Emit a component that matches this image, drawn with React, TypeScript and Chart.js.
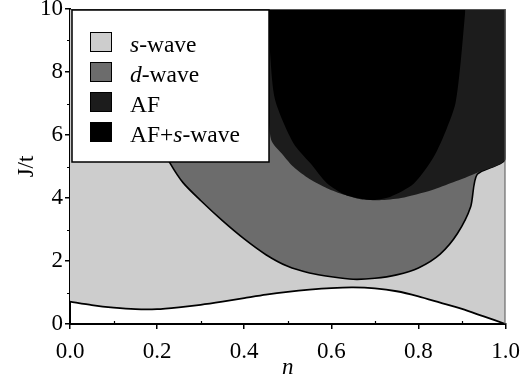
import React, { useEffect, useRef } from 'react';
import { Chart, registerables } from 'chart.js';

Chart.register(...registerables);

// ---- data (n, J/t) ----
const xMinorTicks = [0.1, 0.3, 0.5, 0.7, 0.9];
const yMinorTicks = [1, 3, 5, 7, 9];

// lower boundary of the s-wave region
const lowerN = [0, 0.05, 0.1, 0.15, 0.2, 0.25, 0.3, 0.35, 0.4, 0.45, 0.5, 0.55, 0.6, 0.65, 0.7, 0.75, 0.8, 0.85, 0.9, 0.95, 1.0];
const lowerJ = [0.71, 0.6, 0.52, 0.47, 0.47, 0.53, 0.61, 0.71, 0.82, 0.93, 1.02, 1.09, 1.14, 1.16, 1.13, 1.04, 0.88, 0.68, 0.48, 0.24, 0];

// lower boundary of d-wave (and AF / s-wave line to n = 1)
const dwaveN = [0.12, 0.16, 0.2, 0.23, 0.26, 0.3, 0.35, 0.4, 0.45, 0.5, 0.55, 0.6, 0.65, 0.7, 0.75, 0.8, 0.85, 0.89, 0.92, 0.935, 1.0, 1.0];
const dwaveJ = [10, 7.4, 5.9, 5.1, 4.48, 3.92, 3.28, 2.7, 2.2, 1.83, 1.62, 1.5, 1.42, 1.45, 1.56, 1.78, 2.22, 2.88, 3.72, 4.75, 5.26, 10];

// lower boundary of AF
const afN = [0.44, 0.455, 0.462, 0.49, 0.513, 0.55, 0.59, 0.63, 0.667, 0.71, 0.76, 0.83, 0.88, 0.935, 1.0, 1.0];
const afJ = [10, 7.0, 5.84, 5.35, 4.99, 4.6, 4.31, 4.1, 3.96, 3.93, 4.0, 4.25, 4.5, 4.8, 5.26, 10];

// lower boundary of AF + s-wave
const afsN = [0.456, 0.46, 0.471, 0.513, 0.552, 0.59, 0.632, 0.67, 0.7, 0.736, 0.789, 0.835, 0.865, 0.885, 0.897, 0.908];
const afsJ = [10, 8.5, 7.11, 5.74, 5.1, 4.47, 4.1, 3.97, 3.94, 4.04, 4.45, 5.3, 6.2, 7.0, 8.3, 10];

const seriesNames = ['s-wave', 'd-wave', 'AF', 'AF+s-wave'];
const seriesColors = ['#cdcdcd', '#6c6c6c', '#1c1c1c', '#000000'];

const FONT = '"Liberation Serif", "Times New Roman", serif';

const pts = (xs: number[], ys: number[]) => xs.map((v, i) => ({ x: v, y: ys[i] }));

// split a legend name into italic/regular parts (single letters before "-wave" are italic)
const nameParts = (name: string) => {
  const parts: { t: string; it: boolean }[] = [];
  const re = /(^|\+)([sd])(-wave)/;
  const m = name.match(re);
  if (!m || m.index === undefined) return [{ t: name, it: false }];
  const start = m.index + m[1].length;
  if (start > 0) parts.push({ t: name.slice(0, start), it: false });
  parts.push({ t: m[2], it: true });
  parts.push({ t: name.slice(start + 1), it: false });
  return parts;
};

const decor = {
  id: 'decor',
  afterDraw(chart: any) {
    const { ctx, chartArea: a, scales } = chart;
    const xs = scales.x;
    const ys = scales.y;
    ctx.save();
    // thin top/right frame
    ctx.strokeStyle = '#555';
    ctx.lineWidth = 1;
    ctx.beginPath();
    ctx.moveTo(a.left, a.top + 0.5);
    ctx.lineTo(a.right - 0.5, a.top + 0.5);
    ctx.lineTo(a.right - 0.5, a.bottom);
    ctx.stroke();
    // minor ticks
    ctx.strokeStyle = '#000';
    ctx.lineWidth = 1.2;
    ctx.beginPath();
    xMinorTicks.forEach((v) => {
      const px = Math.round(xs.getPixelForValue(v)) + 0.5;
      ctx.moveTo(px, a.bottom);
      ctx.lineTo(px, a.bottom - 3);
    });
    yMinorTicks.forEach((v) => {
      const py = Math.round(ys.getPixelForValue(v)) + 0.5;
      ctx.moveTo(a.left, py);
      ctx.lineTo(a.left - 3, py);
    });
    ctx.stroke();
    // legend
    const bx = a.left + 2, by = a.top + 1, bw = 197, bh = 152;
    ctx.fillStyle = '#fff';
    ctx.fillRect(bx, by, bw, bh);
    ctx.strokeStyle = '#000';
    ctx.lineWidth = 1.5;
    ctx.strokeRect(bx, by, bw, bh);
    seriesNames.forEach((name, i) => {
      const sx = bx + 18, sy = by + 22 + i * 30, sw = 22, sh = 20;
      ctx.fillStyle = seriesColors[i];
      ctx.fillRect(sx, sy, sw, sh);
      ctx.lineWidth = 1;
      ctx.strokeStyle = '#000';
      ctx.strokeRect(sx + 0.5, sy + 0.5, sw - 1, sh - 1);
      let tx = bx + 58;
      const base = sy + sh;
      ctx.fillStyle = '#000';
      ctx.textBaseline = 'alphabetic';
      ctx.textAlign = 'left';
      nameParts(name).forEach((p) => {
        ctx.font = (p.it ? 'italic ' : '') + '23.5px ' + FONT;
        ctx.fillText(p.t, tx, base);
        tx += ctx.measureText(p.t).width;
      });
    });
    ctx.restore();
  },
};

export default function App() {
  const ref = useRef<HTMLCanvasElement | null>(null);
  useEffect(() => {
    if (!ref.current) return;
    const common = { pointRadius: 0, tension: 0.25, spanGaps: true };
    const chart = new Chart(ref.current, {
      type: 'line',
      data: {
        datasets: [
          {
            label: seriesNames[0],
            data: pts(lowerN, lowerJ),
            backgroundColor: seriesColors[0],
            borderColor: '#000',
            borderWidth: 1.8,
            fill: 'end',
            order: 4,
            ...common,
          },
          {
            label: seriesNames[1],
            data: pts(dwaveN, dwaveJ),
            backgroundColor: seriesColors[1],
            borderColor: '#000',
            borderWidth: 1.6,
            fill: 'end',
            order: 3,
            ...common,
          },
          {
            label: seriesNames[2],
            data: pts(afN, afJ),
            backgroundColor: seriesColors[2],
            borderColor: seriesColors[2],
            borderWidth: 0,
            fill: 'end',
            order: 2,
            ...common,
          },
          {
            label: seriesNames[3],
            data: pts(afsN, afsJ),
            backgroundColor: seriesColors[3],
            borderColor: seriesColors[3],
            borderWidth: 0,
            fill: 'end',
            order: 1,
            ...common,
          },
        ],
      },
      options: {
        animation: false,
        responsive: false,
        devicePixelRatio: 1,
        layout: { padding: { left: 0, right: 21.5, top: 9, bottom: 0 } },
        plugins: { legend: { display: false }, tooltip: { enabled: false } },
        scales: {
          x: {
            type: 'linear',
            min: 0,
            max: 1,
            afterFit: (s: any) => { s.height = 62; s.paddingLeft = 0; s.paddingRight = 0; },
            ticks: {
              stepSize: 0.2,
              padding: 9,
              color: '#000',
              font: { family: FONT, size: 23 },
              callback: (v: any) => Number(v).toFixed(1),
              maxRotation: 0,
            },
            grid: { display: true, drawOnChartArea: false, drawTicks: true, tickLength: 5, color: '#000', lineWidth: 1.5 },
            border: { display: true, color: '#000', width: 2 },
            title: { display: true, text: 'n', color: '#000', font: { family: FONT, size: 23, style: 'italic' }, padding: { top: 0, bottom: 4 } },
          },
          y: {
            type: 'linear',
            min: 0,
            max: 10,
            afterFit: (s: any) => { s.width = 70; s.paddingTop = 0; s.paddingBottom = 0; },
            ticks: {
              stepSize: 2,
              padding: 2,
              color: '#000',
              font: { family: FONT, size: 23 },
            },
            grid: { display: true, drawOnChartArea: false, drawTicks: true, tickLength: 5, color: '#000', lineWidth: 1.5 },
            border: { display: true, color: '#000', width: 2 },
            title: { display: true, text: 'J/t', color: '#000', font: { family: FONT, size: 23 }, padding: { top: 13, bottom: 0 } },
          },
        },
      },
      plugins: [decor],
    } as any);
    return () => chart.destroy();
  }, []);
  return (
    <div style={{ position: 'fixed', left: 0, top: 0, width: 527, height: 386, background: '#fff' }}>
      <canvas ref={ref} width={527} height={386} style={{ display: 'block', width: 527, height: 386 }} />
    </div>
  );
}
